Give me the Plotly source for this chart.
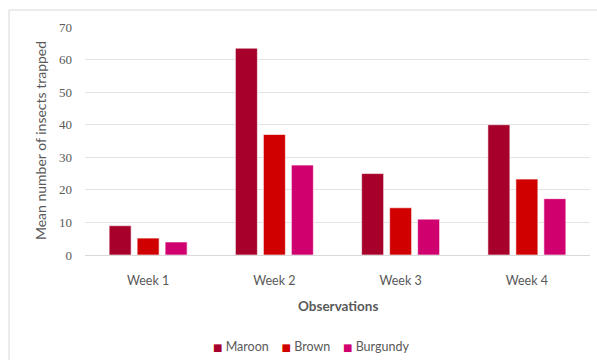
import plotly.graph_objects as go

categories = ["Week 1", "Week 2", "Week 3", "Week 4"]
maroon = [9.0, 63.5, 25.0, 40.0]
brown = [5.2, 37.0, 14.5, 23.3]
burgundy = [4.0, 27.6, 11.0, 17.3]
series_names = ["Maroon", "Brown", "Burgundy"]
colors = ["#A6002B", "#D10000", "#D1006F"]
y_ticks = [0, 10, 20, 30, 40, 50, 60, 70]

TXT = "#595959"
SANS = "Lato, Calibri, Arial, sans-serif"
SERIF = "Liberation Serif, Cambria, serif"

fig = go.Figure()
for name, vals, col in zip(series_names, [maroon, brown, burgundy], colors):
    fig.add_trace(go.Bar(
        x=categories, y=vals, name=name, showlegend=False,
        marker=dict(color=col, line=dict(color="rgba(255,255,255,0.6)", width=1)),
    ))

legend_text = "&nbsp;&nbsp;&nbsp;&nbsp;".join(
    f"<span style='color:{c}; font-family:DejaVu Sans; font-size:10px'>■</span> {n}"
    for n, c in zip(series_names, colors)
)

fig.update_layout(
    width=597, height=360,
    margin=dict(l=85, r=7, t=27, b=105, autoexpand=False),
    paper_bgcolor="white", plot_bgcolor="white",
    barmode="group", bargap=0.335, bargroupgap=0.214,
    showlegend=False,
    xaxis=dict(showgrid=False, showline=True, linecolor="#D9D9D9", linewidth=1,
               ticks="", tickfont=dict(family=SANS, size=12.5, color=TXT),
               ticklabelstandoff=14, automargin=False),
    yaxis=dict(range=[0, 70], tickvals=y_ticks, showgrid=True, gridcolor="#E3E3E3",
               gridwidth=1, zeroline=False, showline=False, ticks="",
               tickfont=dict(family=SERIF, size=13, color=TXT), ticklabelstandoff=12,
               automargin=False),
    shapes=[dict(type="rect", xref="paper", yref="paper",
                 x0=-0.1505, x1=1.05, y0=-0.5, y1=1.0746,
                 line=dict(color="#D9D9D9", width=1), fillcolor="rgba(0,0,0,0)",
                 layer="below")],
    annotations=[
        dict(text="Mean number of insects trapped", xref="paper", yref="paper",
             x=-0.089, y=0.5, textangle=-90, showarrow=False,
             xanchor="center", yanchor="middle",
             font=dict(family=SANS, size=14, color=TXT)),
        dict(text="<b>Observations</b>", xref="paper", yref="paper",
             x=0.5, y=-0.2237, showarrow=False, xanchor="center", yanchor="middle",
             font=dict(family=SANS, size=13.5, color=TXT)),
        dict(text=legend_text, xref="paper", yref="paper",
             x=0.4475, y=-0.4035, showarrow=False, xanchor="center", yanchor="middle",
             font=dict(family=SANS, size=12.5, color=TXT)),
    ],
)

fig.write_html("out.html")
